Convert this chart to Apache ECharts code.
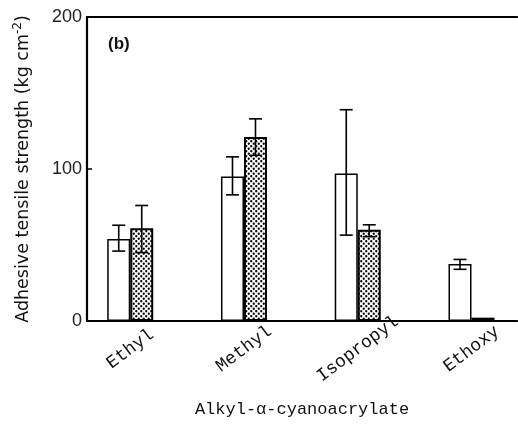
<!DOCTYPE html>
<html>
<head>
<meta charset="utf-8">
<script src="https://cdn.jsdelivr.net/npm/echarts@6/dist/echarts.min.js"></script>
<style>html,body{margin:0;padding:0;background:#fff}#c{width:518px;height:425px}</style>
</head>
<body>
<div id="c"></div>
<script>
// ---- data ----
var categories = ['Ethyl', 'Methyl', 'Isopropyl', 'Ethoxy'];
var catPos = [0, 1, 2, 3];
var openValues = [54, 95, 97, 37.5];
var openLow = [46, 83, 56.5, 34];
var openHigh = [63, 108, 139, 40.5];
var dotValues = [61, 121, 60, 2.2];
var dotLow = [45, 109, 55.5, null];
var dotHigh = [76, 133, 63.3, null];
var yTicks = [0, 100, 200];

// ---- styles ----
var BAR_W = 23;
function makePattern() {
  var c = document.createElement('canvas');
  c.width = 5; c.height = 5;
  var g = c.getContext('2d');
  g.fillStyle = '#fff'; g.fillRect(0, 0, 5, 5);
  g.fillStyle = '#000';
  [[1.25, 1.25], [3.75, 3.75], [6.25, 1.25], [-1.25, 3.75], [1.25, 6.25], [3.75, -1.25]].forEach(function (p) {
    g.beginPath(); g.arc(p[0], p[1], 1.15, 0, Math.PI * 2); g.fill();
  });
  return c;
}
var pattern = makePattern();

function errData(low, high) {
  return catPos.map(function (x, i) { return [x, low[i], high[i]]; });
}
function errRender(offset) {
  return function (params, api) {
    var lo = api.value(1), hi = api.value(2);
    if (lo == null || hi == null || isNaN(lo) || isNaN(hi)) return null;
    var pLo = api.coord([api.value(0), lo]);
    var pHi = api.coord([api.value(0), hi]);
    var x = pLo[0] + offset, hw = 6.5;
    var st = { stroke: '#000', lineWidth: 1.6 };
    return {
      type: 'group',
      children: [
        { type: 'line', shape: { x1: x, y1: pLo[1], x2: x, y2: pHi[1] }, style: st },
        { type: 'line', shape: { x1: x - hw, y1: pLo[1], x2: x + hw, y2: pLo[1] }, style: st },
        { type: 'line', shape: { x1: x - hw, y1: pHi[1], x2: x + hw, y2: pHi[1] }, style: st }
      ]
    };
  };
}

var chart = echarts.init(document.getElementById('c'));
chart.setOption({
  animation: false,
  backgroundColor: '#fff',
  title: {
    text: '(b)', left: 103, top: 31,
    textStyle: { fontFamily: 'Liberation Sans', fontWeight: 'bold', fontSize: 17, color: '#111' }
  },
  grid: { left: 87, right: 1, top: 17, bottom: 104 },
  xAxis: [{
    type: 'value', min: -0.38, max: 3.4,
    splitLine: { show: false },
    axisLine: { show: true, onZero: false, lineStyle: { color: '#000', width: 2.2 } },
    axisTick: { show: false },
    axisLabel: {
      customValues: catPos,
      formatter: function (v) { return categories[Math.round(v)]; },
      rotate: 37, align: 'center', verticalAlign: 'middle', margin: 28,
      fontFamily: 'Liberation Mono', fontSize: 18, color: '#111'
    },
    name: 'Alkyl-α-cyanoacrylate', nameLocation: 'middle', nameGap: 80,
    nameTextStyle: { fontFamily: 'Liberation Mono', fontSize: 17, color: '#111' }
  }, {
    type: 'value', position: 'top', min: -0.38, max: 3.4,
    splitLine: { show: false },
    axisLine: { show: true, onZero: false, lineStyle: { color: '#000', width: 2.2 } },
    axisTick: { show: false }, axisLabel: { show: false }
  }],
  yAxis: {
    type: 'value', min: 0, max: 200, interval: 100,
    splitLine: { show: false },
    axisLine: { show: true, onZero: false, lineStyle: { color: '#000', width: 2.2 } },
    axisTick: { show: true, inside: true, length: 5, lineStyle: { color: '#000', width: 1.5 } },
    axisLabel: {
      customValues: yTicks,
      margin: 5, fontFamily: 'Liberation Sans', fontSize: 18, color: '#222'
    },
    name: '{n|Adhesive tensile strength (kg cm}{s|-2}{n|)}',
    nameLocation: 'middle', nameRotate: 90, nameGap: 53,
    nameTextStyle: {
      rich: {
        n: { fontFamily: 'DejaVu Sans', fontSize: 17.5, color: '#111' },
        s: { fontFamily: 'DejaVu Sans', fontSize: 12, color: '#111', padding: [0, 0, 10, 0] }
      }
    }
  },
  series: [{
    type: 'bar', barWidth: BAR_W, barGap: '0%',
    data: catPos.map(function (x, i) { return [x, openValues[i]]; }),
    itemStyle: { color: '#fff', borderColor: '#000', borderWidth: 1.5 }
  }, {
    type: 'bar', barWidth: BAR_W, barGap: '0%',
    data: catPos.map(function (x, i) { return [x, dotValues[i]]; }),
    itemStyle: { color: { image: pattern, repeat: 'repeat' }, borderColor: '#000', borderWidth: 2 }
  }, {
    type: 'custom', renderItem: errRender(-BAR_W / 2), data: errData(openLow, openHigh), z: 5
  }, {
    type: 'custom', renderItem: errRender(BAR_W / 2), data: errData(dotLow, dotHigh), z: 5
  }]
});
</script>
</body>
</html>
